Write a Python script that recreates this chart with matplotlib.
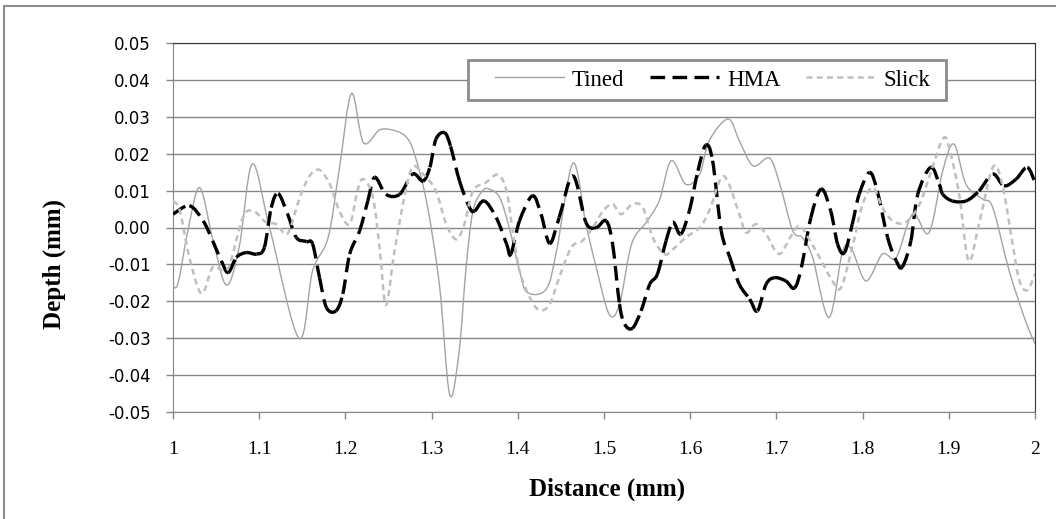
import numpy as np
import matplotlib
matplotlib.use("Agg")
import matplotlib.pyplot as plt
from matplotlib.path import Path
from matplotlib.patches import PathPatch, Rectangle
from matplotlib.lines import Line2D

# profile depth readings, distance in mm
tined_x = [1.000, 1.006, 1.018, 1.031, 1.046, 1.062, 1.077, 1.092, 1.112, 1.146,
           1.162, 1.180, 1.193, 1.207, 1.221, 1.240, 1.258, 1.271, 1.280, 1.294,
           1.309, 1.321, 1.332, 1.340, 1.348, 1.359, 1.367, 1.379, 1.390, 1.402,
           1.411, 1.433, 1.445, 1.464, 1.479, 1.491, 1.506, 1.518, 1.532, 1.549,
           1.564, 1.578, 1.595, 1.611, 1.622, 1.644, 1.657, 1.673, 1.692, 1.704,
           1.719, 1.730, 1.742, 1.761, 1.777, 1.788, 1.804, 1.823, 1.839, 1.858,
           1.877, 1.893, 1.906, 1.920, 1.939, 1.951, 1.970, 1.989, 2.000]
tined_y = [-0.0158, -0.0150, 0.0000, 0.0108, -0.0030, -0.0156, -0.0050, 0.0172, 0.0000, -0.0300,
           -0.0117, -0.0027, 0.0160, 0.0363, 0.0230, 0.0265, 0.0262, 0.0244, 0.0200, 0.0072,
           -0.0154, -0.0453, -0.0334, -0.0108, 0.0045, 0.0099, 0.0104, 0.0081, 0.0000, -0.0117,
           -0.0176, -0.0167, -0.0063, 0.0174, 0.0009, -0.0108, -0.0235, -0.0208, -0.0045, 0.0014,
           0.0072, 0.0181, 0.0117, 0.0145, 0.0235, 0.0294, 0.0235, 0.0167, 0.0188, 0.0117,
           -0.0009, -0.0027, -0.0081, -0.0244, -0.0063, -0.0063, -0.0145, -0.0072, -0.0081, 0.0036,
           -0.0014, 0.0154, 0.0226, 0.0117, 0.0077, 0.0054, -0.0117, -0.0253, -0.0316]

hma_x = [1.000, 1.019, 1.035, 1.046, 1.056, 1.064, 1.0735, 1.085, 1.097, 1.106,
         1.114, 1.122, 1.133, 1.143, 1.155, 1.162, 1.170, 1.178, 1.189, 1.197,
         1.205, 1.2165, 1.226, 1.234, 1.247, 1.263, 1.278, 1.290, 1.298, 1.305,
         1.315, 1.322, 1.3324, 1.344, 1.350, 1.361, 1.375, 1.387, 1.392, 1.402,
         1.417, 1.427, 1.437, 1.448, 1.464, 1.479, 1.491, 1.5025, 1.510, 1.518,
         1.524, 1.533, 1.543, 1.553, 1.562, 1.572, 1.580, 1.589, 1.599, 1.609,
         1.618, 1.626, 1.636, 1.646, 1.657, 1.669, 1.678, 1.688, 1.698, 1.711,
         1.721, 1.729, 1.740, 1.752, 1.763, 1.771, 1.779, 1.788, 1.796, 1.808,
         1.817, 1.829, 1.839, 1.846, 1.856, 1.864, 1.879, 1.889, 1.893, 1.904,
         1.920, 1.935, 1.951, 1.964, 1.978, 1.991, 2.000]
hma_y = [0.0036, 0.0059, 0.0018, -0.0036, -0.0090, -0.0122, -0.0081, -0.0068, -0.0072, -0.0054,
         0.0054, 0.0092, 0.0036, -0.0027, -0.0038, -0.0045, -0.0136, -0.0217, -0.0226, -0.0180,
         -0.0072, -0.0009, 0.0072, 0.0136, 0.0090, 0.0090, 0.0145, 0.0126, 0.0163, 0.0239,
         0.0257, 0.0220, 0.0126, 0.0054, 0.0045, 0.0072, 0.0027, -0.0045, -0.0072, 0.0018,
         0.0086, 0.0036, -0.0043, 0.0027, 0.0140, 0.0014, 0.0000, 0.0018, -0.0045, -0.0208,
         -0.0262, -0.0273, -0.0226, -0.0154, -0.0126, -0.0036, 0.0014, -0.0018, 0.0045, 0.0154,
         0.0223, 0.0181, -0.0009, -0.0081, -0.0154, -0.0194, -0.0226, -0.0154, -0.0136, -0.0145,
         -0.0164, -0.0108, 0.0027, 0.0104, 0.0045, -0.0045, -0.0068, 0.0009, 0.0090, 0.0149,
         0.0099, -0.0027, -0.0090, -0.0107, -0.0036, 0.0090, 0.0163, 0.0117, 0.0090, 0.0072,
         0.0072, 0.0099, 0.0145, 0.0113, 0.0131, 0.0163, 0.0122]

slick_x = [1.000, 1.008, 1.019, 1.033, 1.046, 1.058, 1.066, 1.081, 1.093, 1.108,
           1.120, 1.133, 1.147, 1.1585, 1.170, 1.182, 1.193, 1.205, 1.214, 1.221,
           1.232, 1.240, 1.247, 1.257, 1.269, 1.278, 1.290, 1.305, 1.317, 1.3286,
           1.338, 1.348, 1.363, 1.377, 1.387, 1.394, 1.402, 1.414, 1.425, 1.437,
           1.448, 1.462, 1.475, 1.487, 1.499, 1.510, 1.520, 1.533, 1.545, 1.5565,
           1.570, 1.580, 1.595, 1.611, 1.622, 1.636, 1.645, 1.657, 1.665, 1.676,
           1.688, 1.703, 1.717, 1.727, 1.738, 1.750, 1.765, 1.775, 1.788, 1.800,
           1.812, 1.823, 1.835, 1.850, 1.866, 1.881, 1.893, 1.900, 1.912, 1.923,
           1.935, 1.951, 1.962, 1.974, 1.982, 1.991, 2.000]
slick_y = [0.0072, 0.0045, -0.0081, -0.0179, -0.0108, -0.0117, -0.0099, 0.0027, 0.0045, 0.0014,
           0.0009, -0.0016, 0.0081, 0.0140, 0.0156, 0.0117, 0.0045, 0.0009, 0.0100, 0.0131,
           0.0081, -0.0063, -0.0210, -0.0063, 0.0090, 0.0164, 0.0145, 0.0099, 0.0009, -0.0032,
           0.0009, 0.0099, 0.0122, 0.0143, 0.0099, -0.0009, -0.0117, -0.0190, -0.0224, -0.0208,
           -0.0136, -0.0054, -0.0036, 0.0000, 0.0045, 0.0063, 0.0036, 0.0063, 0.0054, -0.0027,
           -0.0072, -0.0059, -0.0027, 0.0000, 0.0045, 0.0135, 0.0117, 0.0036, -0.0014, 0.0009,
           -0.0018, -0.0072, -0.0023, 0.0005, -0.0032, -0.0081, -0.0145, -0.0163, -0.0054, 0.0063,
           0.0108, 0.0054, 0.0018, 0.0014, 0.0063, 0.0163, 0.0240, 0.0221, 0.0090, -0.0090,
           0.0009, 0.0163, 0.0117, -0.0045, -0.0145, -0.0170, -0.0126]

x_ticks = [1.0, 1.1, 1.2, 1.3, 1.4, 1.5, 1.6, 1.7, 1.8, 1.9, 2.0]
x_labels = ["1", "1.1", "1.2", "1.3", "1.4", "1.5", "1.6", "1.7", "1.8", "1.9", "2"]
y_ticks = [-0.05, -0.04, -0.03, -0.02, -0.01, 0.0, 0.01, 0.02, 0.03, 0.04, 0.05]

SERIF = "Liberation Serif"


def bezier_segments(x, y):
    """Catmull-Rom style smoothing: one cubic Bezier per pair of readings."""
    x = np.asarray(x, float)
    y = np.asarray(y, float)
    n = len(x)
    segs = []
    for i in range(n - 1):
        i0 = max(i - 1, 0)
        i3 = min(i + 2, n - 1)
        c1 = (x[i] + (x[i + 1] - x[i0]) / 6, y[i] + (y[i + 1] - y[i0]) / 6)
        c2 = (x[i + 1] - (x[i3] - x[i]) / 6, y[i + 1] - (y[i3] - y[i]) / 6)
        segs.append([(x[i], y[i]), c1, c2, (x[i + 1], y[i + 1])])
    return segs


def smooth_path(x, y):
    segs = bezier_segments(x, y)
    verts = [segs[0][0]]
    codes = [Path.MOVETO]
    for s in segs:
        verts += s[1:]
        codes += [Path.CURVE4] * 3
    return Path(verts, codes)


fig = plt.figure(figsize=(10.56, 5.19), dpi=100)
ax = fig.add_axes([173 / 1056, 1 - 412 / 519, 862 / 1056, 369 / 519])

# (label, x, y, colour, width, dash, restart dash on every segment)
styles = [
    ("Tined", tined_x, tined_y, "#a3a3a3", 1.0, "-", False),
    ("HMA", hma_x, hma_y, "black", 2.4, (0, (4.4, 2.2)), True),
    ("Slick", slick_x, slick_y, "#bfbfbf", 1.8, (0, (2.4, 1.7)), False),
]

handles = []
for name, xs, ys, color, lw, ls, per_segment in styles:
    kw = dict(fill=False, capstyle="butt", zorder=3, edgecolor=color, linewidth=lw, linestyle=ls)
    if per_segment:
        for s in bezier_segments(xs, ys):
            path = Path(s, [Path.MOVETO] + [Path.CURVE4] * 3)
            ax.add_patch(PathPatch(path, **kw))
    else:
        ax.add_patch(PathPatch(smooth_path(xs, ys), **kw))
    handles.append(Line2D([], [], color=color, lw=lw, linestyle=ls, label=name))

ax.set_xlim(1, 2)
ax.set_ylim(-0.05, 0.05)
ax.set_xticks(x_ticks, x_labels, fontfamily=SERIF, fontsize=14)
ax.set_yticks(y_ticks, [f"{v:.2f}" for v in y_ticks], fontfamily="DejaVu Sans", fontsize=12)
ax.tick_params(axis="x", direction="out", length=5, width=1, color="#868686", pad=16)
ax.tick_params(axis="y", direction="out", length=5, width=1, color="#868686", pad=11)

ax.yaxis.grid(True, color="#868686", lw=1)
ax.set_axisbelow(True)
for side in ("left", "bottom"):
    ax.spines[side].set_color("#868686")
for side in ("top", "right"):
    ax.spines[side].set_color("#333333")

ax.set_xlabel("Distance (mm)", fontfamily=SERIF, fontweight="bold", fontsize=18)
ax.xaxis.set_label_coords(0.504, -0.21)
ax.xaxis.label.set_va("center")
ax.set_ylabel("Depth (mm)", fontfamily=SERIF, fontweight="bold", fontsize=18)
ax.yaxis.set_label_coords(-0.138, 0.40)
ax.yaxis.label.set_va("center")

# legend box drawn separately so the entries can sit off-centre inside it
ax.add_patch(Rectangle((468 / 1056, 1 - 100 / 519), 478 / 1056, 40 / 519,
                       transform=fig.transFigure, facecolor="white", edgecolor="#8c8c8c",
                       lw=2, zorder=4.9, clip_on=False))
leg = ax.legend(handles=handles, ncol=3, loc="center left",
                bbox_to_anchor=(495 / 1056, 1 - 80 / 519), bbox_transform=fig.transFigure,
                prop={"family": SERIF, "size": 16.5}, handlelength=3.0, handletextpad=0.35,
                columnspacing=1.13, borderpad=0, borderaxespad=0, frameon=False)
leg.set_zorder(5)

# chart area border (left and top edges)
fig.patches.append(Rectangle((4 / 1056, -0.05), 1.2, 1.05 - 6 / 519, transform=fig.transFigure,
                             fill=False, edgecolor="#8c8c8c", lw=1.5))

fig.savefig("out.png", dpi=100)
